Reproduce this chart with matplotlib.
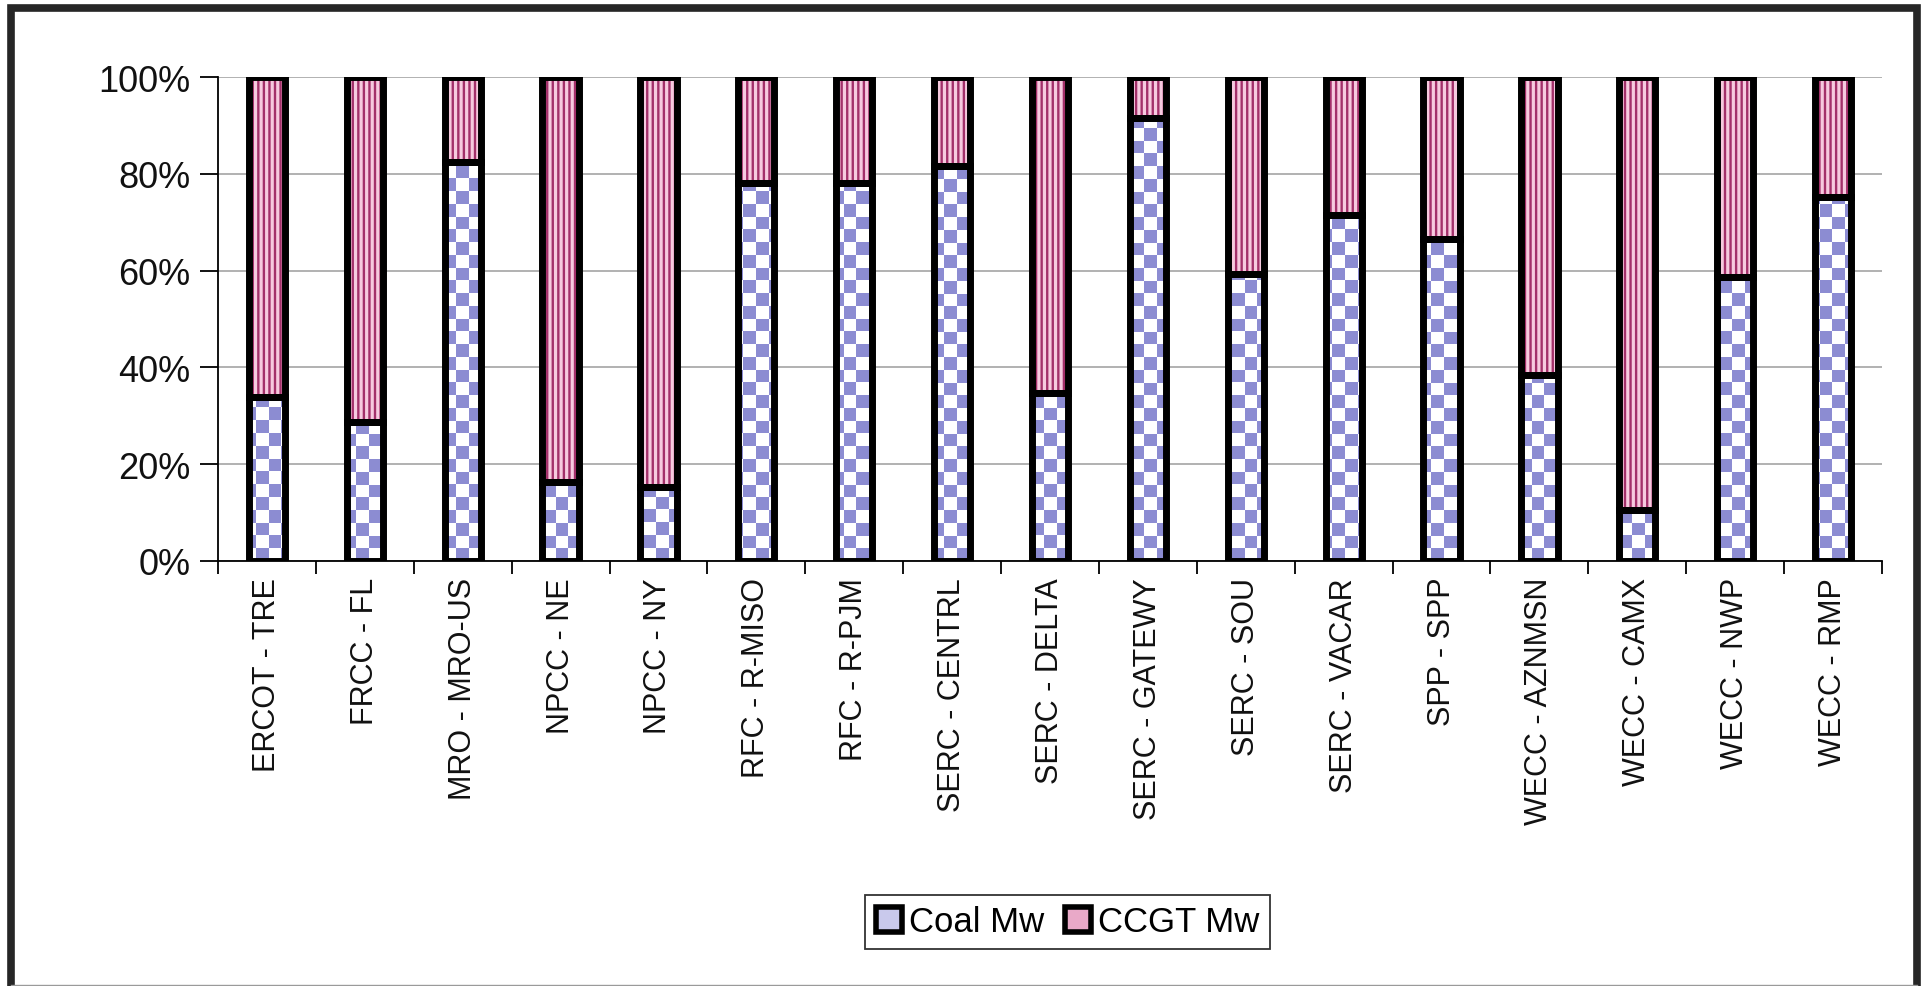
import matplotlib
matplotlib.use("Agg")
import matplotlib.pyplot as plt
import numpy as np
from matplotlib.colors import ListedColormap
from matplotlib.patches import Patch, Rectangle
from matplotlib.lines import Line2D

# share of capacity by region (percent)
regions = ["ERCOT - TRE", "FRCC - FL", "MRO - MRO-US", "NPCC - NE", "NPCC - NY",
           "RFC - R-MISO", "RFC - R-PJM", "SERC - CENTRL", "SERC - DELTA",
           "SERC - GATEWY", "SERC - SOU", "SERC - VACAR", "SPP - SPP",
           "WECC - AZNMSN", "WECC - CAMX", "WECC - NWP", "WECC - RMP"]
coal_pct = [33.9, 28.7, 82.5, 16.3, 15.3, 78.0, 78.2, 81.6, 34.8,
            91.5, 59.2, 71.4, 66.5, 38.4, 10.5, 58.6, 75.3]
ccgt_pct = [100 - c for c in coal_pct]
series_names = ["Coal Mw", "CCGT Mw"]
yticks = [0, 20, 40, 60, 80, 100]

plt.rcParams['font.family'] = ['Liberation Sans', 'DejaVu Sans']
plt.rcParams['hatch.linewidth'] = 1.7

W, H = 1927, 987
fig = plt.figure(figsize=(W / 100, H / 100), dpi=100, facecolor='white')
ax_rect = [218 / W, 1 - 562 / H, (1882 - 218) / W, (562 - 78) / H]
ax = fig.add_axes(ax_rect)

x = np.arange(len(regions))
w = 0.37
xlim = (-0.5, len(regions) - 0.5)

# coal: white base, checkerboard texture clipped to each bar
coal = ax.bar(x, coal_pct, w, color='white', edgecolor='none', zorder=2)
ccgt = ax.bar(x, ccgt_pct, w, bottom=coal_pct, color='#F6CADF',
              edgecolor='#A3306A', linewidth=0, hatch='|||', zorder=2)

cell = 12.5
ncols = int(ax_rect[2] * W / cell)
nrows = int(ax_rect[3] * H / cell)
board = np.add.outer(np.arange(nrows), np.arange(ncols)) % 2
checker = ListedColormap(['white', '#8C8CD2'])
for rect in coal:
    im = ax.imshow(board, cmap=checker, extent=(xlim[0], xlim[1], 0, 100),
                   origin='lower', aspect='auto', interpolation='nearest',
                   zorder=2.5)
    im.set_clip_path(rect)

# thick black outlines
ax.bar(x, coal_pct, w, fill=False, edgecolor='black', linewidth=5, zorder=3)
ax.bar(x, ccgt_pct, w, bottom=coal_pct, fill=False, edgecolor='black',
       linewidth=5, zorder=3)

ax.set_xlim(*xlim)
ax.set_ylim(0, 100)

ax.set_xticks(x)
ax.set_xticklabels(regions, rotation=90, fontsize=22, color='#111111')
ax.tick_params(axis='x', which='major', length=0, pad=11.5)
ax.set_xticks(np.arange(len(regions) + 1) - 0.5, minor=True)
ax.tick_params(axis='x', which='minor', length=9, width=1.3, direction='out')

ax.set_yticks(yticks)
ax.set_yticklabels([f"{v}%" for v in yticks], fontsize=26, color='#111111')
ax.tick_params(axis='y', length=13, width=1.3, pad=7)

for side in ['top', 'right']:
    ax.spines[side].set_visible(False)
for side in ['left', 'bottom']:
    ax.spines[side].set_linewidth(1.3)
    ax.spines[side].set_color('black')

ax.yaxis.grid(True, color='#ABABAB', linewidth=1.3)
ax.set_axisbelow(True)

handles = [Patch(facecolor='#C9C9EC', edgecolor='black', linewidth=4),
           Patch(facecolor='#E9A9C8', edgecolor='black', linewidth=4)]
leg = fig.legend(handles, series_names, loc='center',
                 bbox_to_anchor=(0.554, 0.065), ncol=2, fontsize=25,
                 frameon=True, fancybox=False, edgecolor='black',
                 handlelength=0.75, handleheight=0.75, handletextpad=0.2,
                 columnspacing=0.6, borderpad=0.3, borderaxespad=0)
leg.get_frame().set_linewidth(1.3)

# outer frame
fig.add_artist(Rectangle((11 / W, -0.05), (1917 - 11) / W, 1.05 - 9 / H,
                         transform=fig.transFigure, fill=False,
                         edgecolor='#262626', linewidth=5.5))
fig.add_artist(Line2D([11 / W, 1917 / W], [1.5 / H, 1.5 / H],
                      transform=fig.transFigure, color='#9A9A9A', lw=1))

fig.savefig('out.png', dpi=100)
